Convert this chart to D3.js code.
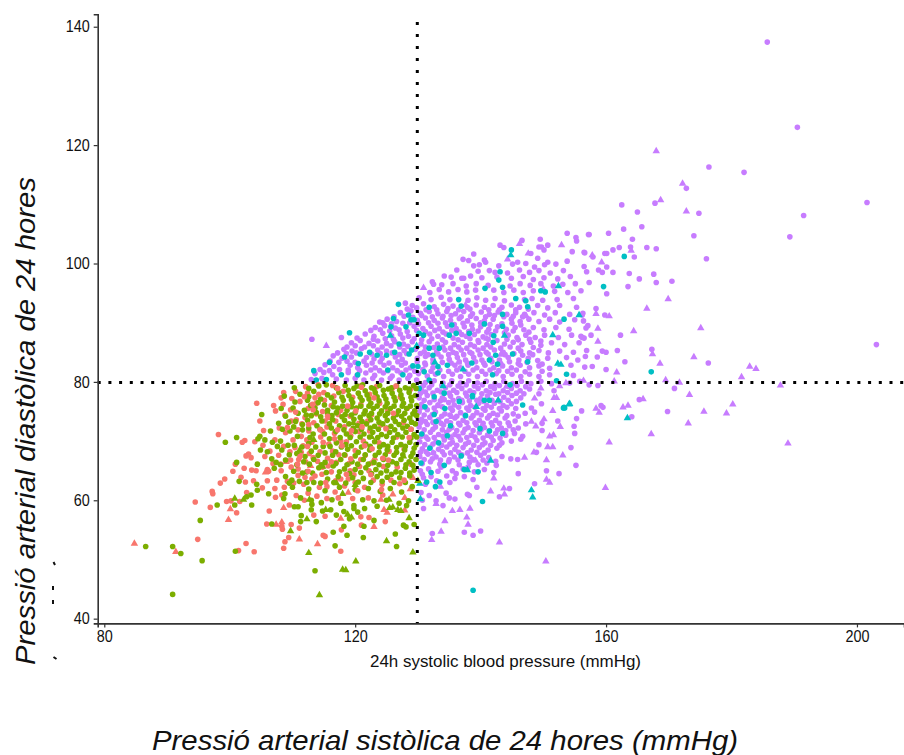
<!DOCTYPE html>
<html><head><meta charset="utf-8">
<script src="https://cdn.jsdelivr.net/npm/d3@7"></script>
<style>html,body{margin:0;padding:0;background:#fff}svg{display:block}text{font-family:"Liberation Sans",Arial,sans-serif}</style>
</head><body><svg id="c" width="904" height="755"></svg>
<script>
const xTickValues=[80,120,160,200];
const yTickValues=[40,60,80,100,120,140];
const xCut=130, yCut=80;
const xLabelText="24h systolic blood pressure (mmHg)";
const xTitleText="Pressió arterial sistòlica de 24 hores (mmHg)";
const yTitleText="Pressió arterial diastòlica de 24 hores";

const purpleCircles=[185.7,137.4,190.5,123,176.4,116.3,182,115.4,172.8,112.7,201.6,110.3,191.5,108.1,189.3,104.5,162.5,109.9,167.8,110.2,165,108.7,174.8,108.5,165.7,106.2,162.8,105.8,174,104.7,157.3,104.9,160.4,105.1,164.2,104.1,176,100.8,162.1,102.7,161.1,102.3,163.9,102.8,166.5,102.7,168,102.5,156.6,101.8,159.8,101.7,160.1,101.7,157.9,101.1,164.5,101.1,156.5,99.5,160.1,99.4,158.8,98.9,159.4,98.5,156.9,98.6,161.1,98.5,163.7,98.3,167.6,98.2,165.3,97.4,168,96.8,170.5,97,157.3,96.8,163.5,96.1,160.1,94.9,158.4,92.4,159.8,91.3,156.2,91.3,156.4,90.3,157.1,89.5,162.3,87.9,157.6,87.9,156,87.7,156.2,87.5,203.1,86.3,167.3,85.5,161.8,85.3,159.4,85.2,160,85,156.7,84.3,158.6,84.2,163,83.4,176.3,83.2,157.8,82.6,160,82.1,157.3,79.5,158.7,79.4,170.9,78.9,165.3,77,159.2,76,159.5,75.7,156.1,75.1,169.8,75,164.1,74.1,
140,54.8,138.8,54.1,137.4,54.6,132.3,54.4,130.9,58.6,134,59.1,143,60.6,144.6,62,139.4,62.2,138.2,60.8,137.9,61,135.9,60.2,135,60.4,134.5,61.2,135.1,63,148.6,62.8,146,64.5,150.5,65,152.5,64.5,155.2,65.9,145.9,66.9,148.9,68.1,154.4,68.9,149.3,69.4,155,71.3,146.7,70.8,146.4,70.3,149.8,71.8,154.9,72.5,147.2,72.9,149.8,73,152.3,73.4,155.3,73.8,149.7,76.3,147.1,74.7,148.1,75.6,148.6,74.9,151.7,78.5,149.3,78,
113.1,87.2,117.8,87.5,123.9,90.1,128,93.3,132.3,96.9,132.5,96.5,134.2,97.9,135.3,97.7,136.2,98.9,137,97.5,137.3,97.5,137.2,100.7,138.1,100.5,138.9,101.6,138.9,99.6,139.8,99.8,140.6,100.6,143.1,103.1,143.7,102.7,146.6,103.9,149.5,104.1,149.3,102.8,149.7,102.8,150.7,103.1,153.8,105.1,155.2,104.4,155.3,103.8,157.2,104.9,154.6,102,156.5,101.9,153.8,100.4,152,99.9,150.7,100.2,148,101.7,149.1,100.9,150.1,102.3,145.9,100.2,142.3,98.5,141.4,98.8,
140.8,100.2,142.9,99.6,145.1,99.9,147.2,100,148.6,99.4,150.2,99.8,139.6,98.7,144.3,98.4,146.2,98.9,147.8,98.5,149.3,98.8,151.1,98.4,153.2,98.8,138.4,97.9,140.2,97.6,142.6,97.7,144.9,97.5,146.8,97.8,148.4,97.3,150.1,97.6,152.3,97.4,154.3,97.8,
133.8,96.4,135.6,96.6,137.7,96.2,139.3,96.6,141.2,96.3,144.7,96.2,146.3,96.6,147.9,96.3,149.6,96.6,151.6,96.2,153.1,96.5,155.1,96.6,131.9,95.1,133.4,95.6,134.9,95.2,136.4,95.6,137.8,95.2,139.2,95.5,142.1,95.5,143.7,95.1,145.3,95.5,146.8,95.1,148.4,95.4,151.8,95.3,153.9,95.1,156,95.4,
130.2,94.2,132.1,93.9,133.7,94.3,135.1,93.9,138,93.8,139.4,94.2,140.8,93.8,142.3,94.1,143.8,93.7,147,93.9,148.2,94.1,149.9,93.8,152.2,93.9,154.8,94.1,129.1,92.9,130.9,93.2,132.6,92.7,134.1,93.1,135.6,92.8,137.9,92.6,139.3,93,140.6,92.6,142,92.9,143.4,92.6,144.9,93,146.2,92.6,149.1,92.9,150.7,92.5,152.6,92.9,155.3,92.6,
127.2,91.7,128.9,92,130.4,91.6,131.8,91.9,133.2,91.5,134.6,91.9,136,91.5,137.3,91.9,138.7,91.5,140.1,91.8,141.4,91.4,142.8,91.8,144.2,91.4,145.6,91.7,147,91.4,148.5,91.7,150.2,91.3,151.9,91.7,154.2,91.4,156.3,91.6,
125.1,90.6,126.6,90.2,129.9,90.4,131.2,90.8,132.6,90.4,133.9,90.8,135.2,90.4,136.6,90.7,137.9,90.3,139.3,90.7,140.6,90.3,142,90.6,144.9,90.6,146.3,90.2,147.7,90.6,149.3,90.2,151,90.6,152.6,90.1,155,90.5,
123.2,89.2,124.7,89.5,126.4,89.1,129.4,89.4,130.8,89,132.1,89.4,133.4,89,134.7,89.4,136.1,89,137.4,89.3,138.7,88.9,140,89.3,141.3,88.9,142.7,89.3,144.1,88.9,145.5,89.2,146.9,88.8,148.4,89.2,150.1,88.8,152,89.2,154.1,88.9,156.8,89.1,
121.6,88.1,123,87.7,124.4,88.2,125.8,87.8,127.2,88.1,128.5,87.7,131.9,88.1,133.2,87.7,134.5,88.1,137,88,137.7,87.7,139,88,140.4,87.6,141.7,88,144.4,87.9,145.8,87.5,147.2,87.9,148.7,87.5,150.2,87.9,152.4,87.5,154.5,87.9,156.5,87.4,
119.4,86.6,120.8,87,122.2,86.5,123.6,86.9,125,86.5,126.3,86.8,127.7,86.4,129.1,86.8,130.5,86.4,131.8,86.8,133.1,86.4,134.4,86.7,135.8,86.3,137.1,86.7,138.4,86.3,139.7,86.7,141,86.3,143.8,86.4,145.2,86.7,146.6,86.3,148,86.7,149.6,86.2,151.3,86.6,153.4,86.3,155.7,86.6,
118.2,85.5,119.5,85.2,121,85.6,123.6,85.4,125,85.2,127.8,85.3,129.6,85.5,131,85.1,133,85.1,134.3,85.4,135.6,85,136.9,85.4,138.3,85,139.6,85.4,140.9,85,142.2,85.4,143.6,85,146.4,85.2,147.8,84.9,149.3,85.3,150.8,84.9,152.6,85.2,154.8,85,156.9,85.3,
116.5,84.4,117.9,84,119.4,84.2,121.8,84.1,123,83.9,124.3,84,126.4,84.2,127.5,83.8,129.9,84,131.2,84.3,132.4,83.8,133.7,84.2,135,83.8,136.3,84.1,137.6,83.7,138.9,84.1,140.2,83.7,141.6,84,143,83.7,144.4,84.1,146.1,83.7,147.6,84,149.1,83.6,150.7,84,153.7,84.1,155.5,83.7,
115.2,82.9,116.6,82.6,119.2,82.8,120.4,82.4,121.8,82.8,123.2,82.4,124.6,82.8,126,82.4,127.4,82.8,128.8,82.4,131.2,82.9,132.4,82.4,135.9,82.8,136.8,82.4,138,82.8,139.4,82.4,140.7,82.8,142.1,82.4,143.5,82.7,144.9,82.4,146.3,82.8,147.8,82.4,149.3,82.7,151,82.3,154.4,82.8,156.6,82.5,
113.6,81.4,115,81.6,116.4,81.2,118.9,81.6,120.3,81.1,121.7,81.5,123.1,81.1,124.5,81.5,125.9,81,127.3,81.5,128.7,81.1,130.1,81.4,131.5,81,132.8,81.3,134.1,80.9,135.5,81.3,136.8,80.9,138.1,81.3,139.5,80.9,140.8,81.3,142.5,81.4,143.6,80.9,145,81.3,146.4,80.9,147.8,81.3,149.3,80.9,151,81.2,154.8,81.1,
113,80.4,114.7,80.6,117,80.5,118.6,80.3,120,80.6,121.4,80.3,122.8,80.6,124.2,80.3,125.6,80.6,127,80.3,128.4,80.6,129.8,80.3,131.2,79.9,132.6,80.2,134,79.8,135.4,80.2,136.8,79.8,138.1,80.2,139.5,79.8,140.9,80.1,142.3,79.7,143.7,80.1,145.1,79.7,146.5,80.1,148,79.7,149.6,80.1,151.3,79.7,154.2,79.8,155.8,80.1,
130.5,78.7,131.8,79,133.1,78.6,134.4,79,135.7,78.6,137,78.9,138.3,78.5,139.6,78.9,140.9,78.5,142.2,78.9,143.6,78.5,144.9,78.9,146.3,78.5,147.8,78.8,
130.2,77.3,131.5,77.7,133.9,77.3,135.2,77.6,136.5,77.2,137.8,77.6,140,77.2,141.1,77.6,142.4,77.9,143.7,77.4,145,77.7,146.4,77.3,
130.6,76.2,131.9,76.5,133.2,76.1,134.9,76.5,135.8,76.1,137.1,76.5,138.4,76,139.7,76.4,141,76,142.2,76.4,143.6,76,144.9,76.3,
130.2,74.9,131.5,75.3,132.8,74.9,134.3,74.6,135.5,75.2,136.8,74.8,138.1,75.2,139.4,74.8,140.7,75.2,142,74.7,143.3,75.1,145.2,74.6,
130.6,73.7,131.9,74,133.3,73.6,134.6,73.4,135.9,73.9,137.2,73.5,138.5,73.9,139.8,73.5,141.1,73.9,142.4,73.5,143.9,73.9,145.5,73.4,
130.2,72.4,131.5,72.8,132.8,72.4,134.1,72.7,135.4,72.3,136.7,72.7,138,72.3,139.3,72.7,140.6,72.3,141.9,72.6,143.3,72.2,144.6,72.6,146,72.2,
130.7,71.2,132,71.5,133.3,71.1,134.6,71.5,135.9,71.1,137.2,71.4,138.5,71,139.8,71.4,141.1,71,142.4,71.3,144,71,145.4,71.3,
130.3,69.9,131.6,70.3,132.9,69.9,134.2,70.2,135.5,69.8,136.8,70.2,138.1,69.8,139.4,70.1,140.7,69.7,142,70.1,143.4,69.7,144.9,70,
130.7,68.7,132,69,133.3,68.6,134.6,69,135.9,68.6,137.2,68.9,138.5,68.5,139.8,68.9,141.2,68.5,142.6,68.8,
130.3,67.4,131.6,67.8,132.9,67.3,134.2,67.7,135.8,67.3,137,67.7,138.3,67.3,140,67.6,141.3,67.2,143.4,67.4,144.8,67,
130.7,66.2,132,66.5,133.5,66.1,134.9,66.5,136.6,66,138.2,66.4,139.6,66,141,66.3,142.5,65.9,
130.4,65,131.7,65.3,133.2,64.9,135.5,65,137.2,65.3,139,64.8,140.6,65.2,142.1,64.7,
130.9,63.8,132.1,64,135.9,63.7,137.4,64,138.8,63.5,
131.2,62.7,130.5,61.3,131.8,60.8,130.7,60,132.9,59.9];
const purpleCirclesCore=[128.3,92.3,129.8,92.5,131.3,92.2,133,92.2,134.8,92.4,136.5,92.2,138.3,92.3,141.3,92.2,143,92.2,145.6,92.2,147.6,92.3,
126.2,91,127.8,91.1,129.2,90.9,130.6,91.2,132.3,91,134,91.1,135.3,91.2,136.9,91,138.4,91.1,140.8,91,142.2,91.2,143.7,91,145.2,91.1,146.7,91,
124.4,90,125.8,89.8,127.6,89.9,128.7,90,130.1,89.8,131.7,90,133.2,89.9,134.4,90,135.8,89.7,137.2,89.9,138.6,89.6,140,90,141.5,89.7,143.4,89.8,145,89.9,146.4,89.6,
122.5,88.7,124,88.8,125.5,88.6,127,88.8,128.3,88.5,129.8,88.7,131.2,88.5,132.7,88.7,134,88.4,135.4,88.7,136.6,88.4,138.1,88.5,139.6,88.6,141,88.4,142.4,88.6,143.8,88.3,145.2,88.6,147.7,88.4,
120.3,87.4,122.9,87.2,124.8,87.3,126.1,87.2,127.6,87.4,129.4,87.3,130.6,87.1,132.2,87.3,133.9,87.1,135.6,87.4,136.4,87.1,138.3,87.3,139.6,87,141.2,87.2,142.6,87,144.2,87.2,146,87.1,147.8,87.2,149.6,86.9,
118.7,85.9,120,86.1,121.5,85.9,122.9,86.1,124.3,85.9,125.7,86.1,127.1,85.9,128.4,86,129.8,85.8,131.2,85.9,132.5,85.8,134,85.9,135.2,85.7,136.5,85.9,137.8,85.7,139,86,140.4,85.7,141.6,85.9,143.2,85.7,144.7,85.9,146,85.7,148.4,85.8,
117.2,84.9,118.6,84.8,120.2,84.9,122.6,84.7,124,84.8,125.9,84.9,127.1,84.6,128.2,84.8,130.4,84.8,131.6,84.6,133.2,84.7,134.9,84.6,136.1,84.8,137.3,84.6,138.6,84.8,139.9,84.6,141.2,84.7,143.9,84.6,145.3,84.8,146.7,84.5,148.3,84.6,
116,83.5,117.4,83.3,118.7,83.5,120,83.3,121.4,83.5,122.7,83.2,124,83.4,125.4,83.2,126.8,83.4,128,83.2,129.9,83.4,131.1,83.2,132.4,83.2,133.9,83.3,135.3,83.2,136.6,83.4,137.9,83.2,139.2,83.4,140.5,83.2,141.8,83.4,143.2,83.1,144.6,83.4,146,83.1,147.4,83.3,149.8,83,
114.4,82.1,115.9,81.9,117.5,82.1,118.9,82,120.7,81.9,122.5,82,123.9,81.9,125.2,81.9,126.7,81.9,128.1,82,129.5,81.8,130.8,82.1,132.1,81.8,133.5,82,134.9,81.8,136.2,82,137.5,81.8,138.8,82,140.2,81.8,141.5,82,142.9,81.9,144.3,81.8,145.7,82,147.1,81.7,149.8,81.8,
130.9,79.4,132.2,79.5,133.8,79.4,135.1,79.5,136.4,79.3,137.7,79.5,139,79.3,140.3,79.5,141.6,79.2,143,79.4,144.4,79.3,145.8,79.4,147.2,79.2,
130.4,78.1,131.2,78.3,132.4,78.1,133.7,78.3,135,78.1,136.2,78.2,137.6,78.1,138.9,78.2,140.2,78,141.5,78.2,142.9,78,144.3,78.2,145.7,78.1,146.9,78,
131,76.9,132.6,77,133.6,76.8,134.2,77,135.6,76.9,137,76.9,138.2,76.8,139.4,76.9,140.5,76.7,141.8,76.9,143.1,76.7,144.4,76.9,145.7,76.7,
130.4,75.6,131.2,75.7,132.6,75.6,133.9,75.8,135.2,75.6,136.5,75.7,137.8,75.6,139.1,75.7,140.4,75.5,141.7,75.7,143,75.5,144.2,75.7,145.6,75.5,
131,74.4,132.3,74.5,133.8,74.2,135.1,74.4,136.2,74.2,137.5,74.4,138.8,74.3,140.1,74.4,141.4,74.3,142.7,74.4,144.2,74.3,146,74.2,
130.4,73.1,131.2,73.3,132.4,73.2,133.7,73,135.2,73.1,136.5,73,137.8,73.1,139.1,73.1,140.4,73,141.7,73.1,143,73,144.4,73.1,
131,71.9,132.4,72,133.9,71.9,135,72,136.2,71.8,137.5,72,138.8,71.8,140.1,72,141.4,71.8,142.7,71.9,144,71.8,145.2,71.9,
130.5,70.8,131.3,70.7,132.6,70.6,134,70.8,135.2,70.6,136.5,70.8,137.8,70.6,139.1,70.7,140.4,70.5,141.7,70.7,143.1,70.5,
131.1,69.4,132.4,69.5,133.8,69.3,135.1,69.5,136.2,69.3,137.6,69.5,138.9,69.3,140.3,69.4,141.6,69.3,143,69.3,
130.4,68.1,131.3,68.2,132.5,68,133.9,68.2,135.2,68,136.5,68.1,137.9,68,139.4,68.1,140.6,68,
131,66.9,132.3,67,133.6,66.8,135,66.9,136.4,66.8,138.8,66.9,140.4,66.8,142.4,66.6,
130.7,64.4,133.7,65.6,136.1,64.5,138,65.6,133,63.3,134.6,64.1];
const purpleTriangles=[168,119,172.2,113.5,168.7,110.7,172.8,108.8,157.8,101.4,164,102.2,159.3,100.2,169.9,94,166.5,92.4,158.4,91.5,160.5,91.1,158.7,89,164.4,88.6,175.1,89.1,158.7,86.8,167.4,84.7,174,84.2,168.6,83.1,161.7,81.6,182.9,82.6,183.9,82.2,181.6,80.8,169.5,80.3,156.4,80.2,161.3,80.1,171.7,79.9,187.8,79.4,173.3,77.8,180.2,76.2,165.9,77.1,163.5,76,162.7,75.7,158.4,75.5,158.9,74.8,175.6,75,179.2,74.7,173.1,73,167.2,71.2,160.5,69.8,189,69.6,
150.4,49.7,143,52.9,133.7,54.7,132.2,53.3,138,55.9,137.8,57.1,134.3,56.5,135.5,58.2,136.7,58.4,138.3,58.6,132.9,59.4,143.8,61,141.6,61.5,143.7,62,142.1,63.7,151,63,150.5,63.5,159.9,62.1,147,67.2,150.5,66.8,153.1,67.6,148.5,68.1,150.7,69,151.5,69,151,70.8,151.6,71,148.8,72.5,152.7,72.4,148.1,73.3,150.1,73.7,151.5,75.1,151.7,77.3,152.1,77.3,148.6,77.2,149.6,78.9,152.6,79.3,153.6,79.8,
130.9,95.9,146.2,103.3,152.9,103.1,147.6,101.7,144.3,100.7,115.4,86.1,130.5,78.9,142.8,76.9,139.3,75.8,132.4,68,135.3,70.6,140.2,72.6,133.1,75.9,144.1,79.2,136.5,83.3,141,87.3,147.3,91.1,150,95.7,137.6,93,143.2,84.6,135.4,74.1,139.2,66.7,133.6,62.3];
const tealCircles=[162.9,101.2,159.6,96.1,167.2,81.7,138.8,44.8,140.3,59.8,132.8,62.3,133.5,63.1,153.2,75.6,153.4,75.6,146.7,76.1,
119.1,88.3,126.9,93.1,143.1,98.6,142.9,97.2,143.5,96,140.7,95.8,144.9,102.3,149.6,95.4,150.3,95.2,145.6,94.1,147.2,93.7,147.5,92.7,153.3,90.6,136.5,93.9,143.5,91.4,140.6,89.8,143.5,89.4,142.1,87.8,142,86.7,145.1,84.7,147.5,83.4,153.7,81.3,152.1,80.2,153.3,75.7,138.7,77.7,134.3,75.5,132.6,74.5,113.4,81.9,115.9,83.3,118.3,84.2,126.1,90.7,125.7,89.3,128.5,91.3,128.9,90.5,131.8,92.6,120.5,83.1,120.8,84.7,122.3,85,125,84.5,126.3,85,123.5,84.5,127,86.4,128.6,84.7,129,85.4,130.2,88.2,130.9,87.9,129.4,90.5,128.1,89.3,135,87.9,136.1,88.2,138.2,88.2,135.4,89.6,136.9,92.8,133.4,85.7,132.4,84.5,131.8,85.7,134.7,82.8,133.2,82.6,138.6,83.2,141.4,83.7,142.4,84.5,142.7,83,141.9,81.2,129.2,82.7,130,82.6,131,81.7,133.2,81.5,125.2,82,127.6,81.2,120.4,81.2,117.8,81.2,113.8,80.3,115.4,80.4,131.8,80.3,130.2,78.9,132.6,77.5,134.2,78.1,136.6,76.7,140.6,76.9,141.4,76.9,138.7,77.5,144.7,79.5,
131.1,75.8,132.9,73.3,130.6,71.2,134.7,70.9,131.9,68.8,135.2,72.6,137.6,74.3,139.9,72.1,141.4,71.7,143.5,71.3,133.3,69.7,136.9,67.5,134.2,65.9,132.1,64.7,137.4,65.2,139.6,64.8,130.5,66.3,131.4,63.1];
const tealTriangles=[163.4,73.9,148.3,60.5,148.1,61.7,154.2,76.3,144.8,101.4,152.4,96.2,155.7,91.3,151.5,87.9,143.8,87.8,152.3,83.1,152.8,82.9,154.1,76.2,142.8,76.9,139.3,75.8,130.4,60.2,130.3,62.8,137.9,65.1,141.6,66.7,134,79.3,137.2,82.1,132.7,83.3,125.6,87.8,129.8,86.1];
const redCircles=[104.3,76.4,98.2,71.1,104.8,73.4,102.4,70.1,102,69.8,97.2,61.5,97.3,61.1,94.5,59.7,96.9,58.8,94.9,53.4,101.4,51.5,102.6,52.7,103.9,51.3,99.5,59.8,100.2,59.9,101.6,59.8,101.1,57.9,106.3,58.2,105.9,56,108.6,51.9,108.8,53,109.4,53.7,111.1,55.3,108.3,55.6,108.4,55.1,109.8,55.9,114.9,54.1,115.2,53.9,117.7,51.4,120.9,57.2,122.2,57.1,121,55.8,117.8,55,124.8,56.4,113.4,57.5,115.2,57.3,99.2,63.6,98.5,62.9,100.5,64.9,100.9,66.1,102.3,65.4,103.5,65.1,104.2,65,101.8,63.9,102.5,63.1,103.8,63.3,102.7,61.3,106,63.3,102.6,67.5,103,67.8,103.4,67.2,104,69.9,107,76,107.3,75.1,108.2,77.3,108.6,78.2,105.4,71.8,106,65.2,106.2,64.9,107.3,60.5,108.3,60.9,
106.4,68.3,107.8,67.6,108.6,69.1,107.2,70.2,108.9,71.4,110.1,70.2,109.6,68.2,111,66.9,109.8,65.6,108.2,65,107.5,63.4,109.2,63.2,110.9,64.2,111.8,62.7,113.1,63.6,114.3,62.2,112.5,61.2,110.6,60.8,113.9,60.7,115.5,60.3,116.8,61.4,118.3,62.4,120,63,121.5,62.2,122.9,63.4,124.3,62.7,125.7,63.4,127.1,62.8,124.4,60.9,122.1,60.4,119.6,60.3,110.6,73.6,109.7,75.3,111.2,76.7,112.5,75.5,112,74,113.4,73.1,112.6,71.7,111.4,70.8,113.1,69.8,114.5,70.7,115.8,69.5,114.4,68.2,112.7,67.9,114,66.6,115.6,67.1,117,66.4,116.2,64.8,114.7,64.4,117.7,63.6,119.2,65,120.7,65.7,122.2,65,118.4,67.6,120,68.4,121.6,67.6,117.7,70,119.3,70.9,115.5,72.4,116.9,73.4,118.3,72.4,114.8,75,116.2,76,117.7,75.2,119.2,74.2,120.6,73,113.6,77.3,115,78.2,116.6,77.6,118.1,78.4,119.6,77.4,120.9,76.2,122.3,77.9,123.9,76.4,125.2,75.1,122.6,74.4,124.1,72.7,122.3,71.7,123.8,69.7,125.4,68.3,126.6,70.7,127.7,73.1,128.3,75.5,127.2,77.4,128.8,78.7,125.9,78.9,123.4,79.2,120.8,79.3,110.5,78.4,112.1,79.2,114.1,79.5,127.8,68.6,128.9,66.1,126.7,65.6,124.5,65.7];
const redCirclesCore=[105.6,67.4,106.9,66.2,108.1,66.1,105.3,69.3,109.7,66.8,110.4,68.9,111.4,68.1,110.9,71.9,109.8,73.4,108.8,74.4,107.9,72.2,108.5,76.2,109.9,77.2,112.4,78.1,113.8,76.4,111.5,72.9,112.3,70.2,111.7,69.2,113.3,67.2,112.1,66.5,110.9,65.3,112,63.9,110.2,62.9,108.7,62.2,107.2,62,105.2,62.1,109.5,59.2,111.9,60,114.8,65.6,115.7,65.8,116.9,63.3,115.5,62.3,113.8,74.6,115.2,73.4,116.7,71.3,114.8,71.6,115.1,76.9,117.3,74.5,118.9,71.2,118.6,69.9,116.4,68.3,117.4,67.7,119,66.2,120.9,66.9,119.8,64.3,118.9,63.6,122.6,66.3,121.3,70,120.6,71.6,122,73.4];
const purpleTrianglesCore=[];
const redTriangles=[84.8,52.7,91.4,51.3,100.1,58.5,99.8,56.7,108.6,58.7,107.4,55.9,108.3,56.3,111.1,53.4,114,52.6,117.7,56.9,123,55.5,124.6,58.4,125.1,57.9,127.9,58.3,124.1,60.1,126,61,127.9,60.4,129.2,63.8,128.8,61.9,105.7,64.7,109,66.5,112.9,65.8,118.9,61.3,123.1,67.1,115.7,73.9];
const greenCircles=[86.6,52.2,90.9,52.2,92.2,51,90.9,44.1,95.6,49.8,95.3,56.6,98,59.2,99.3,69.8,101.1,70.6,100.8,59.2,103.4,60.9,102.7,60.6,103.5,59.2,104.3,62.7,104.4,61.7,101.5,63.2,101.1,66.4,104.4,66.1,100.9,51.4,113.6,48.1,105.1,74.5,106.5,71.7,104.8,70.8,104.5,70.4,106.2,61.1,106.7,56,113.8,56.4,111.4,57.4,111.3,56.4,110.3,58.9,110.9,58.9,116.5,54.6,118.7,54.1,116.8,52.3,121.3,53.7,121.4,55.6,123,56.6,126.4,54.3,126.6,52.2,127.7,55.8,128.1,55.5,129.4,55.9,118.2,55.6,
112.6,78.9,114.2,79.3,118.4,79.4,119.8,78.9,121.2,79.5,122.6,79,123.9,79.4,125.3,78.8,126.6,79.3,128,79,129.3,79.4,
111.2,77.9,113.4,78.4,115.6,77.8,117.4,78.2,119,77.7,120.5,78.1,121.9,77.8,123.2,78.2,124.6,77.7,125.9,78.1,127.3,77.8,128.6,78.2,129.6,77.7,
110.4,76.6,112.4,76.9,114.1,76.5,116.7,76.6,118.1,76.9,119.6,76.5,121.1,76.9,122.5,76.4,123.8,76.8,125.1,76.4,126.4,76.8,127.7,76.4,129,76.8,
111.9,75.2,113.6,75.6,115.6,75.2,117.2,75.6,118.7,75.2,120.2,75.6,121.6,75.1,122.9,75.5,124.2,75.1,125.6,75.5,126.9,75.1,128.2,75.5,129.5,75.1,
108.9,74.2,110.9,74.7,113,74.3,114.5,74.1,116.3,74.3,117.9,74.1,119.4,74.4,120.8,74,122.2,74.3,123.5,73.9,124.8,74.3,126.1,73.9,127.4,74.2,128.7,73.9,129.8,74.3,
107.8,73,109.4,73.2,111.6,72.8,113.9,72.6,115.9,72.9,117.5,72.6,119,72.9,120.4,72.6,121.8,72.9,123.1,72.5,124.4,72.9,125.7,72.5,127,72.8,128.3,72.5,129.6,72.9,
109.6,71.7,111.6,71.9,113.3,71.2,115.1,71.2,116.9,71.6,118.6,71.2,120,71.6,121.4,71.2,122.8,71.5,124.2,71.1,125.5,71.5,126.8,71.1,128.1,71.5,129.4,71.1,
106.8,69.8,108.1,70,110.3,69.3,112.6,69.6,114.9,69.1,117,69.7,118.5,69.4,120.2,69.9,121.7,69.5,123.1,69.9,124.5,69.4,125.9,69.8,127.3,69.4,128.7,69.8,129.7,69.4,
108.3,68.5,110.7,67.9,113,68.3,115.2,68,116.9,68.2,118.8,68.6,120.5,68.1,122.3,68.5,123.8,68.1,125.1,68.5,126.6,68.1,127.9,68.5,129.2,68,
106.7,67,108.9,66.8,111.8,66.5,113.4,66.9,115.2,66.4,117.7,66.9,119.5,66.5,121.3,66.9,123,66.4,124.5,66.9,125.9,66.5,127.3,66.9,128.6,66.5,129.7,66.9,
107.1,65.4,110.2,64.9,112.3,64.8,114.2,65.5,116.5,65.8,118.3,65.3,120,65.2,121.7,65.5,123.3,65.2,125,65,126.5,64.8,128,65.4,129.4,65.1,
108.9,64,111.1,63.2,113.4,63,115.6,63.6,117.3,64,119.6,63.8,121.3,63.7,123.5,64,125.1,63.9,127.1,63.8,128.7,64.1,
110,62.2,112.6,61.9,115.2,61.6,117.5,62.2,120,61.8,122.1,62,124,61.5,125.6,62,127.4,61.4,129.1,62.3,
108.8,61.1,111.3,60.4,113,60,114.6,59.6,116.3,60.1,117.7,59.5,119.8,59.1,121.2,60.1,123,59.9,125,60,127,59.5,128.5,59.9,
113,58.4,114.8,58.2,116.1,58.4,118.2,58.1,119.8,58.6,121.5,58.6,123.5,59,128.2,59.1,113.1,59.3,117,57.5,119.1,56.9,120.4,58,109.5,62.9,108.6,60.3,107.4,66.4,106,68.2,104.9,68.5,105.6,70.2,108.2,75.5,108.7,77.6,110.3,79];
const greenCirclesCore=[115.4,79.5,117,79,118.9,78.6,120.3,79.3,121.6,78.5,123,78.8,124.5,78.6,125.8,79,127.1,78.6,128.6,78.8,129.7,78.9,
112.6,77.5,114.5,77.1,116.2,77.3,117.9,77.4,119.4,77,120.8,77.4,122.2,77.1,123.5,77.5,124.9,77.1,126.2,77.4,127.5,77.1,128.9,77.4,
110.1,75.6,112.9,76,115.1,76.1,116.5,75.8,118,75.9,119.4,75.8,120.9,75.9,122.2,75.9,123.5,75.9,124.8,75.8,126.2,75.9,127.5,75.9,128.8,75.9,129.8,76,
112.2,74.4,113.8,74.8,115.6,74.6,117,74.8,118.4,74.5,120,74.8,121.4,74.6,122.6,74.7,123.9,74.6,125.2,74.7,126.6,74.5,127.9,74.7,129.2,74.6,
110.5,73.3,112.4,73.5,114.7,73.4,116.4,73.6,118.3,73.5,119.8,73.7,121.1,73.3,122.5,73.6,123.8,73.2,125.1,73.5,126.4,73.3,127.8,73.5,129,73.2,
108.4,72,110.2,72.4,112.6,72.2,114.4,72,116.2,72.2,118.2,71.9,119.7,72.2,121,72,122.4,72.2,123.7,72,125,72.2,126.3,71.9,127.6,72.2,128.9,72,
110.8,70.8,112.8,70.6,115.9,70.4,117.6,70.6,119.2,70.6,120.8,70.7,122.3,70.7,123.6,70.6,125,70.8,126.1,70.5,127.5,70.7,128.9,70.5,129.8,70.7,
107.6,69.1,109.3,69.3,111.5,69,113.7,69,116,69.1,117.8,69,119.4,69.2,121,69,122.4,69.1,123.9,69,125.2,69.1,126.6,68.9,128,69.1,129.4,68.8,
109.5,67.7,112,67.4,114.1,67.6,116.4,67.6,118.3,67.7,120,67.5,121.6,67.7,123.2,67.6,124.8,67.7,126.2,67.6,127.6,67.7,128.9,67.4,
108.1,66,110.7,66,112.7,66.1,114.6,66,116.9,66.2,118.7,66,120.4,66.1,122.1,66.1,123.8,66,125.2,65.9,126.6,66.2,128.1,66,129.2,65.9,
111.6,64.6,113.2,64.6,115.4,64.7,117.5,64.8,119.1,64.5,120.9,64.7,122.6,64.5,124.1,64.6,125.8,64.4,127.3,64.7,128.7,64.6,
109.9,63.4,112.3,63,114.5,62.9,116.6,63,118.5,62.9,120.5,63.1,122.5,63,124.3,63.2,126.2,63,128,63];
const greenTriangles=[114.3,44,118,48.3,118.5,48.2,120.1,49.7,112.6,51.1,109.7,54.8,112.3,56.8,125,53.1,129.2,51.2,128.6,57,119.4,57.1,118.8,57.6,100.8,60.3,115.3,58.4,118,61.1,117,62.9,120,62.6,112.7,60.1,130,63.3,114.8,65.7,125.4,60.1,125.5,58.7,126,58.8,126.8,58.4,127.3,58.2,102.2,60.1,113.4,70.2,122.6,70.7,127.7,67.4,119.7,73.1,111.1,68.4];
const redAccents=[113.2,76.2,115.6,74.2,117.2,71.9,119.3,67,121.1,72.4,116.4,79.4,114.4,71.9,111.9,77.5,117.9,69.2,120.1,75.1,112.5,64.9,115.3,63,117.3,60.4,120.4,61.6,122.5,64.3,124.9,72.1,126.1,74.7,123,77.3,127.8,63.4,125.3,66.8,128.6,70.6,122.7,68.7,118.8,75.9,109.2,72.3,110.8,66.1,114.2,77.9,121,79.1,126.5,79.3,128.9,72,124.2,61.8,110.5,74.9,112.6,72.8,114.9,69.8,111.2,67.4,116.2,66.5,113.6,64.1,118.6,64.4,116.7,70.4,113.3,75.3,119.4,71.8,121.5,69.2,117.2,78.9,124.4,67.1,112.4,69.1];

const toPoints=flat=>d3.range(0,flat.length,2).map(i=>[flat[i],flat[i+1]]);
const svg=d3.select("#c");
const x=d3.scaleLinear().domain([78.95,207.5]).range([97.7,904]);
const y=d3.scaleLinear().domain([39.2,142.1]).range([623.4,14.3]);
const colors={red:"#F8766D",green:"#7CAE00",teal:"#00BFC4",purple:"#C77CFF"};
const triPath=d3.symbol().type(d3.symbolTriangle).size(24)();

function circles(flat,color){
  svg.append("g").selectAll("circle").data(toPoints(flat)).join("circle")
    .attr("cx",d=>x(d[0])).attr("cy",d=>y(d[1])).attr("r",2.8).attr("fill",color);
}
function triangles(flat,color){
  svg.append("g").selectAll("path").data(toPoints(flat)).join("path")
    .attr("d",triPath).attr("transform",d=>`translate(${x(d[0])},${y(d[1])})`).attr("fill",color);
}
circles(purpleCircles,colors.purple);
circles(purpleCirclesCore,colors.purple);
triangles(purpleTriangles,colors.purple);
circles(tealCircles,colors.teal);
triangles(tealTriangles,colors.teal);
circles(redCircles,colors.red);
circles(redCirclesCore,colors.red);
triangles(redTriangles,colors.red);
circles(greenCircles,colors.green);
circles(greenCirclesCore,colors.green);
triangles(greenTriangles,colors.green);
circles(redAccents,colors.red);

// dotted reference lines
svg.append("line").attr("x1",x(xCut)-.6).attr("x2",x(xCut)-.6).attr("y1",22).attr("y2",623)
  .attr("stroke","#000").attr("stroke-width",3).attr("stroke-dasharray","3 9");
svg.append("line").attr("x1",97.7).attr("x2",904).attr("y1",y(yCut)+.6).attr("y2",y(yCut)+.6)
  .attr("stroke","#000").attr("stroke-width",3).attr("stroke-dasharray","3 7.7");

// axes
const fmt=d=>String(d);
const gx=svg.append("g").attr("transform","translate(0,623.4)").call(d3.axisBottom(x).tickValues(xTickValues).tickSize(4).tickFormat(fmt));
const gy=svg.append("g").attr("transform","translate(97.7,0)").call(d3.axisLeft(y).tickValues(yTickValues).tickSize(4).tickFormat(fmt));
[gx,gy].forEach(g=>{
  g.select(".domain").attr("stroke","#333").attr("stroke-width",1.6);
  g.selectAll(".tick line").attr("stroke","#333").attr("stroke-width",1.2);
  g.selectAll(".tick text").attr("fill","#111").style("font-size","16px")
   .attr("textLength",d=>String(d).length*8).attr("lengthAdjust","spacingAndGlyphs");
});
gx.selectAll(".tick text").attr("y",7.5);
gy.selectAll(".tick text").attr("x",-8);

svg.append("text").attr("x",505.5).attr("y",667).attr("text-anchor","middle").attr("fill","#111")
  .style("font-size","16px").attr("textLength",271).attr("lengthAdjust","spacingAndGlyphs").text(xLabelText);
svg.append("text").attr("x",445).attr("y",750).attr("text-anchor","middle").attr("fill","#111")
  .style("font-size","28px").style("font-style","italic").attr("textLength",586).attr("lengthAdjust","spacingAndGlyphs").text(xTitleText);
svg.append("text").attr("transform","translate(35,421) rotate(-90)").attr("text-anchor","middle").attr("fill","#111")
  .style("font-size","28px").style("font-style","italic").attr("textLength",488).attr("lengthAdjust","spacingAndGlyphs").text(yTitleText);

// clipped remnants of an underlying label
svg.append("path").attr("d","M53.5 562l1.5 3M53 586v4M53 600v4M53.5 657l3 2").attr("stroke","#111").attr("stroke-width",2).attr("fill","none");
</script></body></html>
